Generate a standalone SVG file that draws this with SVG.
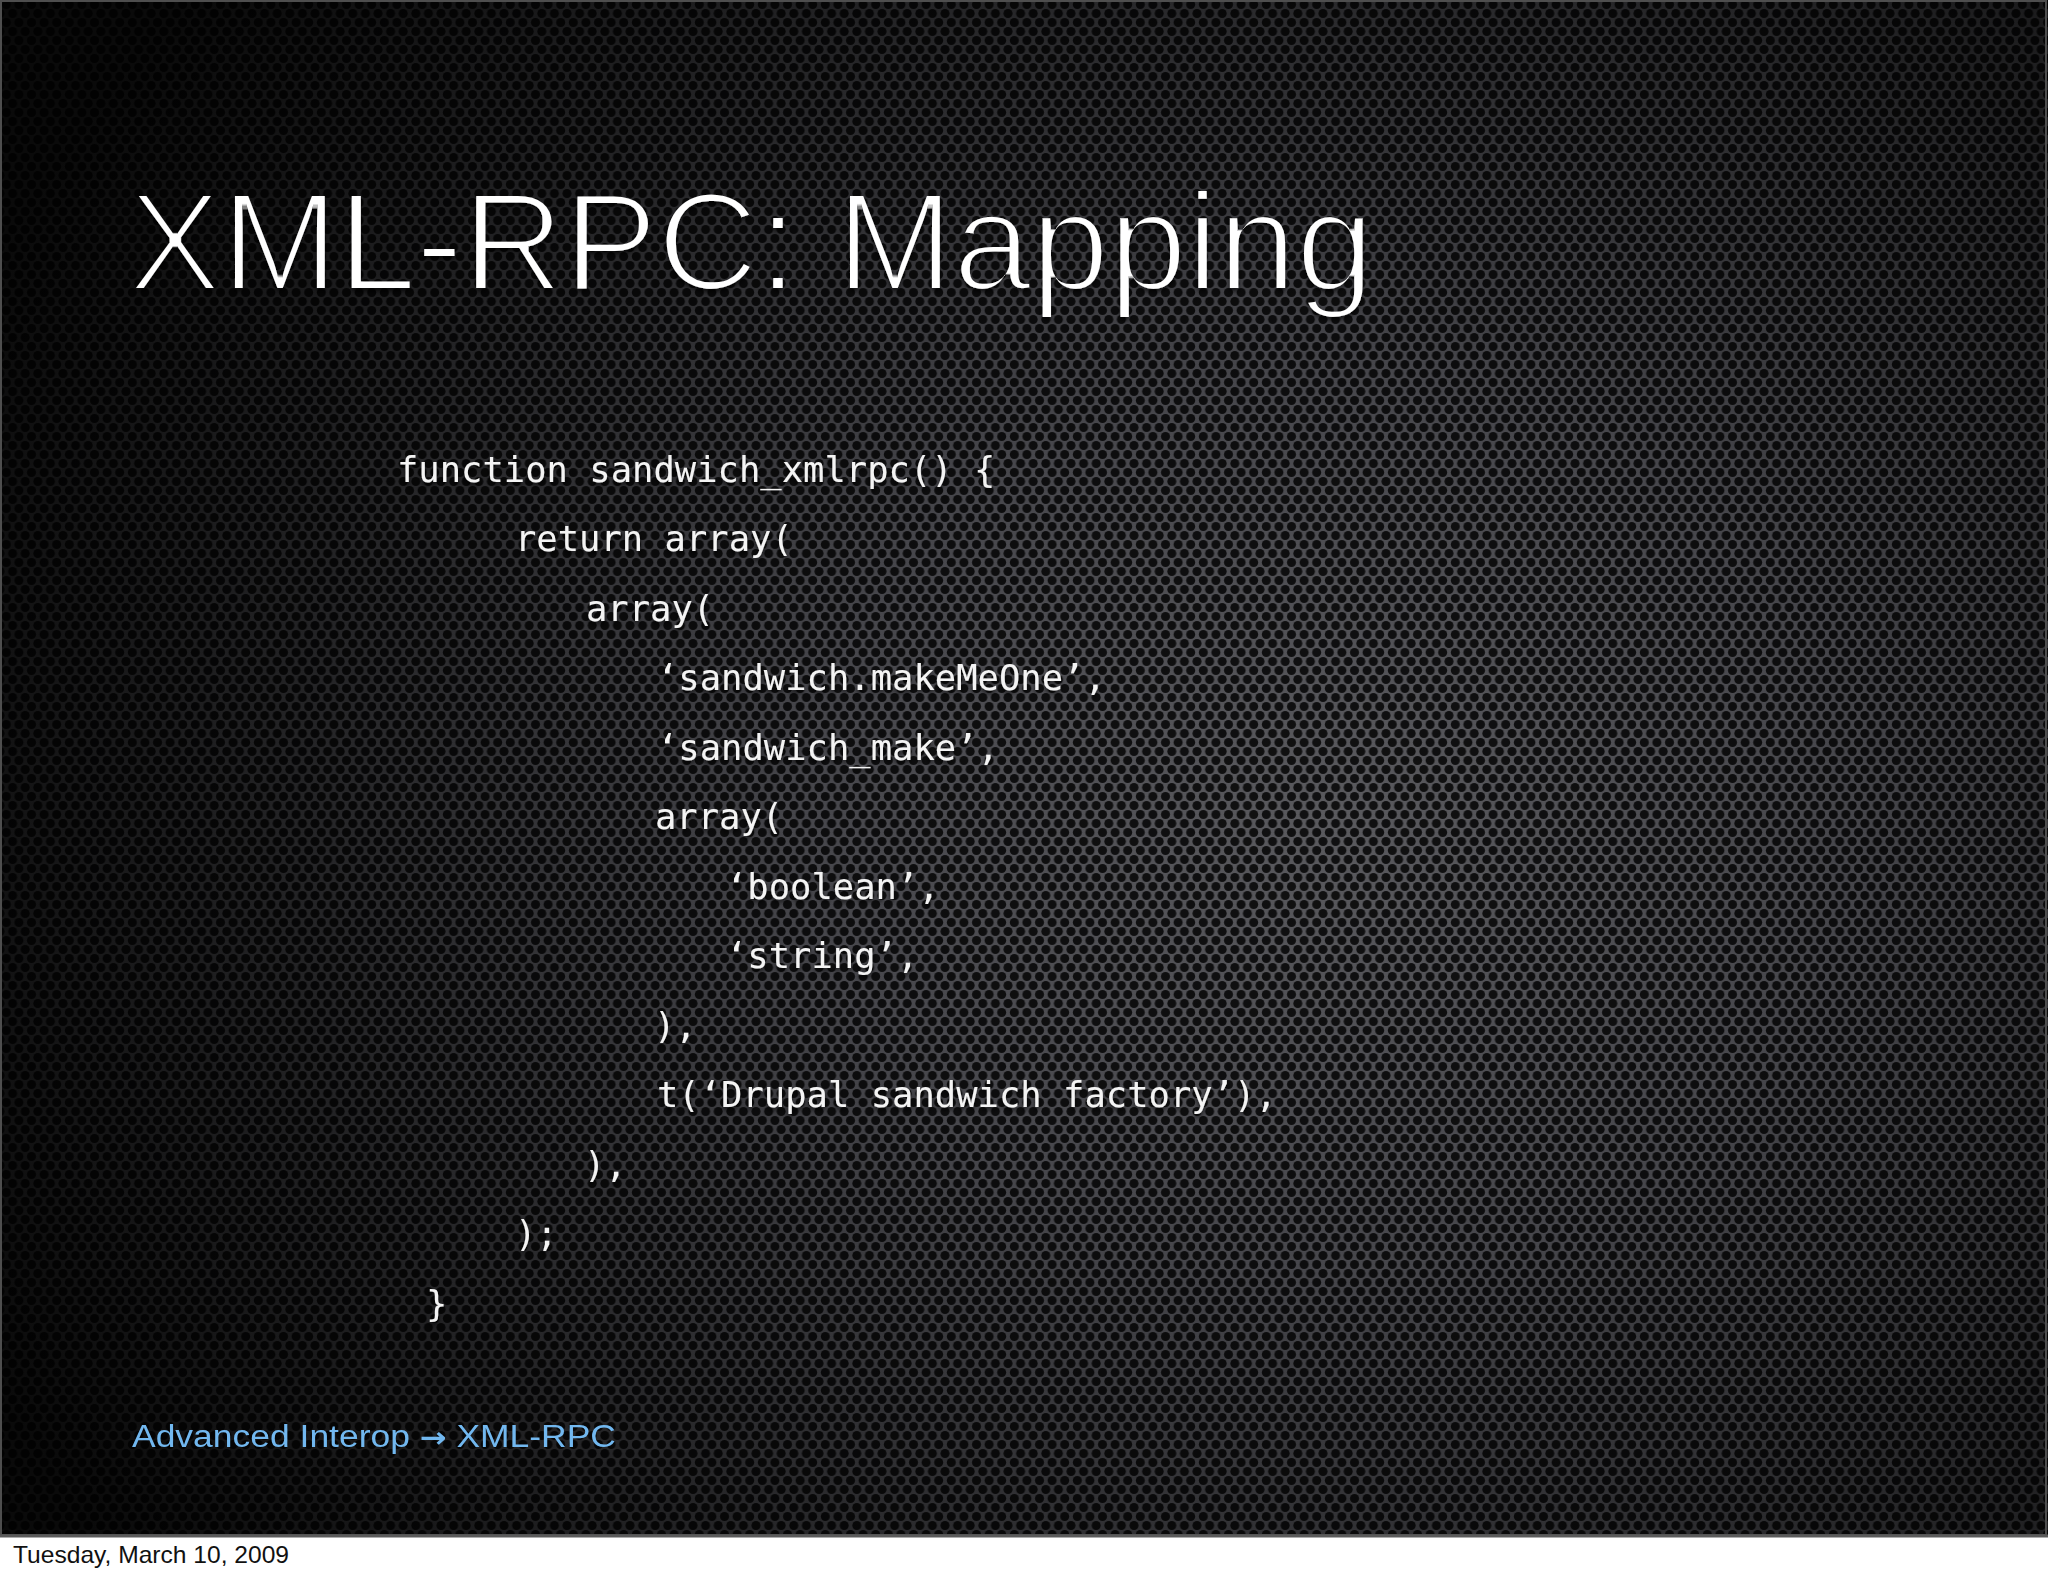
<svg xmlns="http://www.w3.org/2000/svg" width="2048" height="1576" viewBox="0 0 2048 1576">
  <defs>
    <radialGradient id="light" gradientUnits="userSpaceOnUse" cx="1330" cy="820" r="1350" gradientTransform="translate(1330 820) scale(1.1 0.95) translate(-1330 -820)">
      <stop offset="0" stop-color="#5a5a5e"/>
      <stop offset="0.35" stop-color="#46464b"/>
      <stop offset="0.7" stop-color="#232325"/>
      <stop offset="1" stop-color="#0a0a0a"/>
    </radialGradient>
    <pattern id="perf" patternUnits="userSpaceOnUse" width="12.6" height="18">
      <circle cx="6.3" cy="4.5" r="4.5"/>
      <circle cx="0" cy="13.5" r="4.5"/>
      <circle cx="12.6" cy="13.5" r="4.5"/>
    </pattern>
    <filter id="shadow" x="-5%" y="-20%" width="110%" height="150%">
      <feDropShadow dx="0" dy="3" stdDeviation="2" flood-color="#000" flood-opacity="0.75"/>
    </filter>
    <filter id="thin" x="-5%" y="-20%" width="110%" height="150%">
      <feMorphology in="SourceGraphic" operator="erode" radius="1.6" result="t"/>
      <feDropShadow in="t" dx="0" dy="3" stdDeviation="2" flood-color="#000" flood-opacity="0.75"/>
    </filter>
    <filter id="thinSmall" x="-5%" y="-30%" width="110%" height="160%">
      <feMorphology in="SourceGraphic" operator="erode" radius="0.4"/>
    </filter>
  </defs>
  <style>
    .title { font-family: "Liberation Sans", Arial, sans-serif; font-size: 140px; fill: #ffffff; }
    .code { font-family: "DejaVu Sans Mono", "Liberation Mono", monospace; font-size: 35.5px; fill: #f4f4f4; }
    .crumb { font-family: "Liberation Sans", Arial, sans-serif; font-size: 31px; fill: #72b8f0; }
    .arrow { font-family: "DejaVu Sans", sans-serif; font-weight: bold; font-size: 28px; }
    .date { font-family: "Liberation Sans", Arial, sans-serif; font-size: 24px; fill: #111111; }
  </style>

  <g id="background">
    <rect x="0" y="0" width="2048" height="1536" fill="url(#light)"/>
    <rect x="0" y="0" width="2048" height="1536" fill="url(#perf)" fill-opacity="0.82"/>
    <rect x="1" y="1" width="2045" height="1534" fill="none" stroke="#4e4e4e" stroke-width="2"/>
    <rect x="0" y="1537" width="2048" height="39" fill="#ffffff"/>
    <line x1="0" y1="1536" x2="2048" y2="1536" stroke="#5a5a5a" stroke-width="3"/>
  </g>

  <g id="title" filter="url(#thin)">
    <text class="title" x="128" y="290" textLength="1246" lengthAdjust="spacingAndGlyphs">XML-RPC: Mapping</text>
  </g>

  <g id="code" filter="url(#shadow)">
    <text class="code" x="397" y="482">function sandwich_xmlrpc() {</text>
    <text class="code" x="515" y="551">return array(</text>
    <text class="code" x="586" y="621">array(</text>
    <text class="code" x="657" y="690">‘sandwich.makeMeOne’,</text>
    <text class="code" x="657" y="760">‘sandwich_make’,</text>
    <text class="code" x="655" y="829">array(</text>
    <text class="code" x="726" y="899">‘boolean’,</text>
    <text class="code" x="726" y="968">‘string’,</text>
    <text class="code" x="654" y="1038">),</text>
    <text class="code" x="657" y="1107">t(‘Drupal sandwich factory’),</text>
    <text class="code" x="584" y="1177">),</text>
    <text class="code" x="515" y="1246">);</text>
    <text class="code" x="426" y="1316">}</text>
  </g>

  <g id="breadcrumb" filter="url(#thinSmall)">
    <text class="crumb" x="132" y="1447" textLength="484" lengthAdjust="spacingAndGlyphs">Advanced Interop <tspan class="arrow">→</tspan> XML-RPC</text>
  </g>

  <g id="footer-date">
    <text class="date" x="13" y="1563" textLength="276" lengthAdjust="spacingAndGlyphs">Tuesday, March 10, 2009</text>
  </g>
</svg>
